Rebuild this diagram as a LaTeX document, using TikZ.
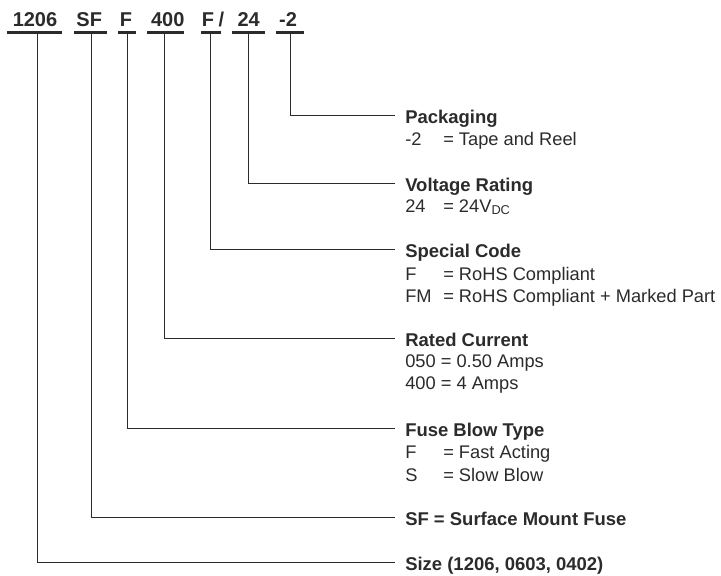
\documentclass[tikz,border=0pt]{standalone}
\usepackage{fontspec}
\setmainfont{Liberation Sans}
\definecolor{ink}{HTML}{2B2B2B}
\begin{document}
\begin{tikzpicture}[x=0.75pt,y=-0.75pt,
  hdr/.style={font=\fontsize{15}{17}\selectfont\bfseries, text=ink, anchor=base, inner sep=0pt},
  ttl/.style={font=\fontsize{13.85}{16}\selectfont\bfseries, text=ink, anchor=base west, inner sep=0pt},
  row/.style={font=\fontsize{13.7}{16}\selectfont, text=ink, anchor=base west, inner sep=0pt},
  uline/.style={draw=ink, line width=1.7pt},
  conn/.style={draw=ink, line width=0.75pt}]
\useasboundingbox (0,0) rectangle (721,575);

% header parts
\node[hdr] (hSize) at (35,26) {1206};
\node[hdr] (hSF)   at (89.2,26) {SF};
\node[hdr] (hBlow) at (126,26) {F};
\node[hdr] (hCur)  at (167.7,26) {400};
\node[hdr] (hSpec) at (208,26) {F};
\node[hdr] (hSlash) at (221.3,26) {/};
\node[hdr] (hVolt) at (248.7,26) {24};
\node[hdr] (hPack) at (288,26) {-2};

% underlines
\draw[uline] (7,32.5) -- (62,32.5);
\draw[uline] (74,32.5) -- (107,32.5);
\draw[uline] (118,32.5) -- (136,32.5);
\draw[uline] (147,32.5) -- (184,32.5);
\draw[uline] (201,32.5) -- (221,32.5);
\draw[uline] (232,32.5) -- (265,32.5);
\draw[uline] (276,32.5) -- (304,32.5);

% connector starts
\coordinate (sSize) at (37.7,32.5);
\coordinate (sSF)   at (91.3,32.5);
\coordinate (sBlow) at (127,32.5);
\coordinate (sCur)  at (164.7,32.5);
\coordinate (sSpec) at (210.7,32.5);
\coordinate (sVolt) at (248.7,32.5);
\coordinate (sPack) at (290,32.5);

% connector ends
\coordinate (ePack) at (395,115);
\coordinate (eVolt) at (395,183);
\coordinate (eSpec) at (395,249.5);
\coordinate (eCur)  at (395,338.5);
\coordinate (eBlow) at (395,428.5);
\coordinate (eSF)   at (395,517.5);
\coordinate (eSize) at (395,562.5);

% labels
\node[ttl] (lPack) at (405,123) {Packaging};
\node[row] (rPack1a) at (405,145) {-2};
\node[row] (rPack1b) at (443,145) {= Tape and Reel};

\node[ttl] (lVolt) at (405,191) {Voltage Rating};
\node[row] (rVolt1a) at (405,212) {24};
\node[row] (rVolt1b) at (443,212) {= 24V\textsubscript{DC}};

\node[ttl] (lSpec) at (405,257.5) {Special Code};
\node[row] (rSpec1a) at (405,280) {F};
\node[row] (rSpec1b) at (443,280) {= RoHS Compliant};
\node[row] (rSpec2a) at (405,302) {FM};
\node[row] (rSpec2b) at (443,302) {= RoHS Compliant + Marked Part};

\node[ttl] (lCur) at (405,346.5) {Rated Current};
\node[row] (rCur1) at (405,367.5) {050 = 0.50 Amps};
\node[row] (rCur2) at (405,389.5) {400 = 4 Amps};

\node[ttl] (lBlow) at (405,436.5) {Fuse Blow Type};
\node[row] (rBlow1a) at (405,458.5) {F};
\node[row] (rBlow1b) at (443,458.5) {= Fast Acting};
\node[row] (rBlow2a) at (405,481) {S};
\node[row] (rBlow2b) at (443,481) {= Slow Blow};

\node[ttl] (lSF) at (405,525.5) {SF = Surface Mount Fuse};
\node[ttl] (lSize) at (405,570.5) {Size (1206, 0603, 0402)};

% connectors
\draw[conn] (sPack) |- (ePack);
\draw[conn] (sVolt) |- (eVolt);
\draw[conn] (sSpec) |- (eSpec);
\draw[conn] (sCur)  |- (eCur);
\draw[conn] (sBlow) |- (eBlow);
\draw[conn] (sSF)   |- (eSF);
\draw[conn] (sSize) |- (eSize);
\end{tikzpicture}
\end{document}
